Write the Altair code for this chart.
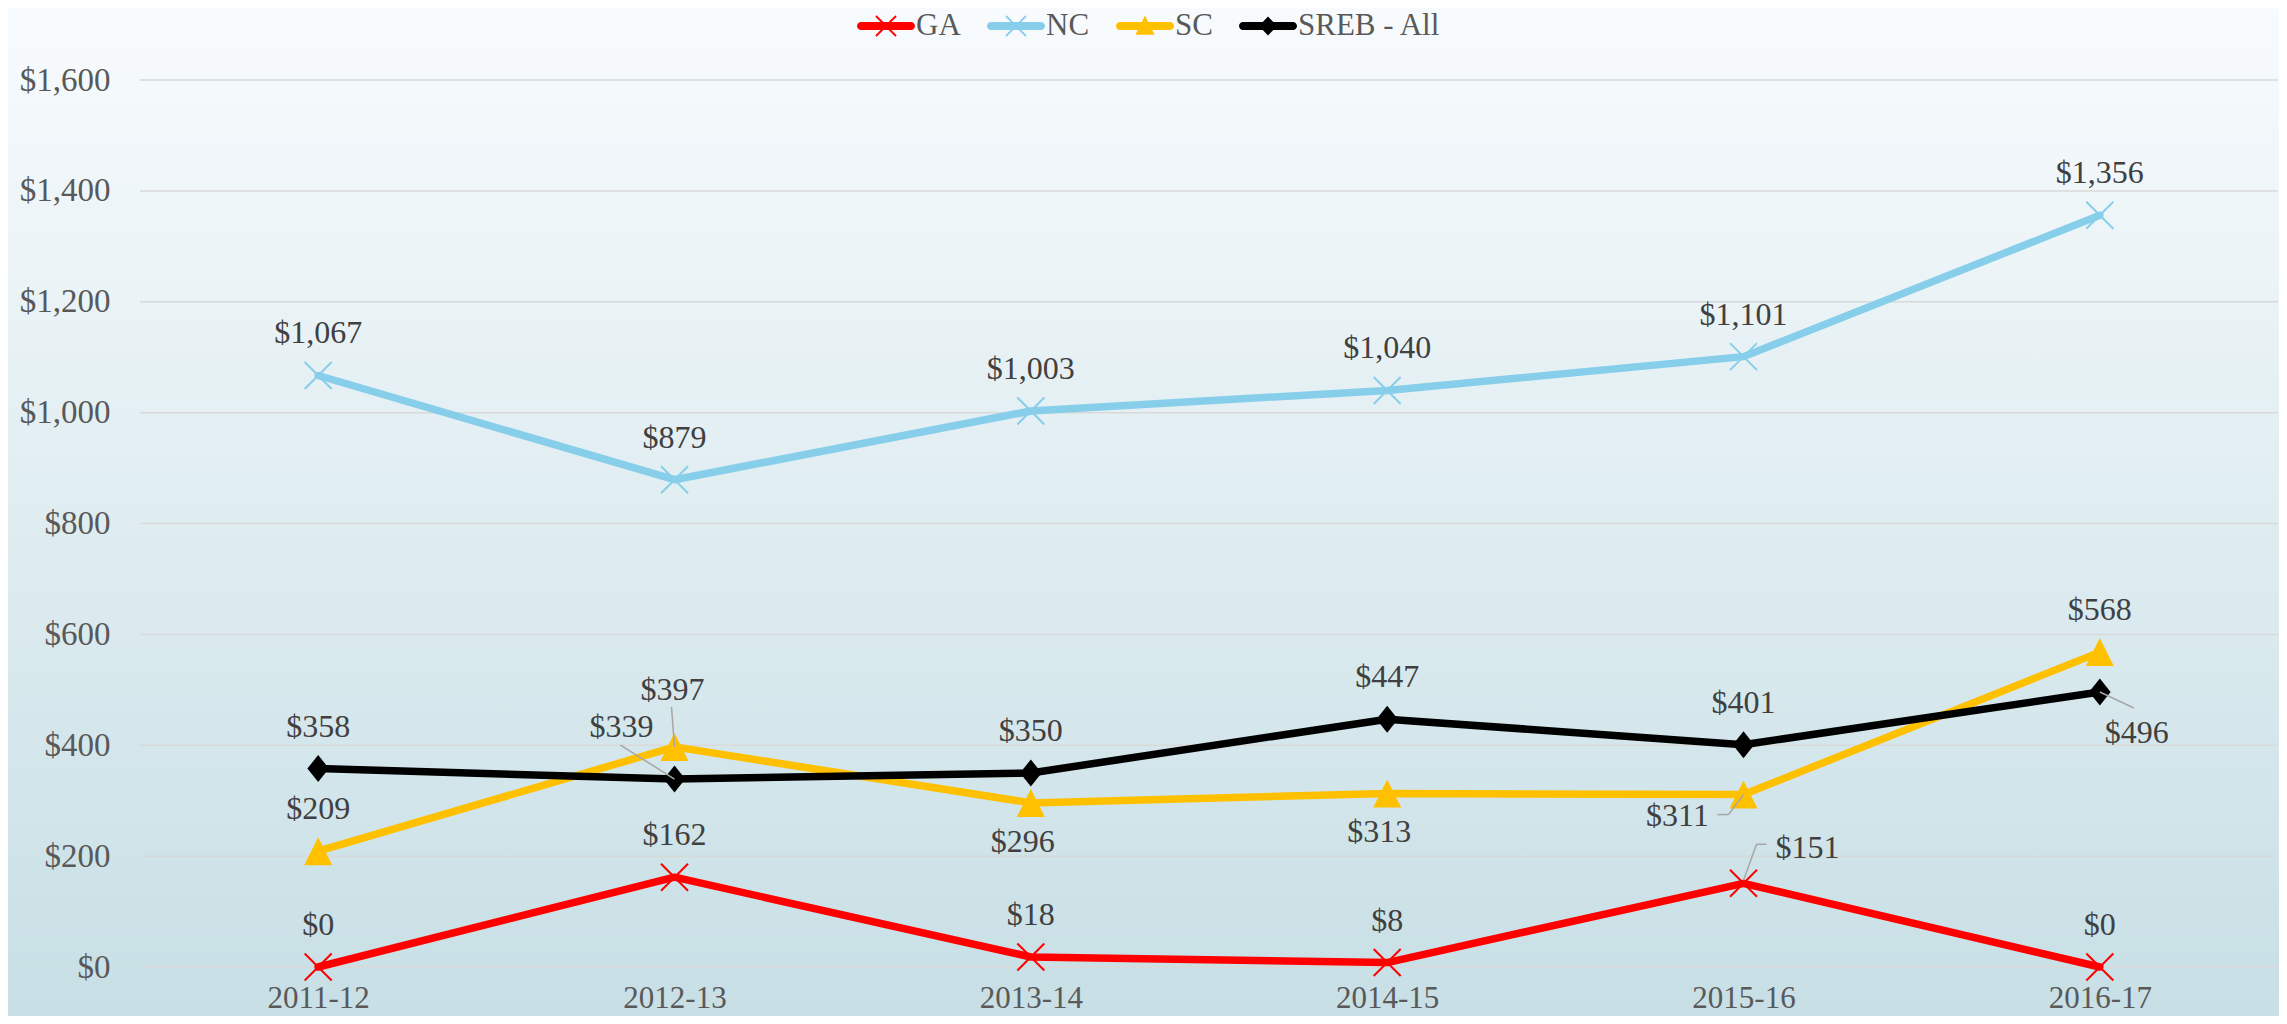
import altair as alt
import pandas as pd

# ---------------- data ----------------
years = ["2011-12", "2012-13", "2013-14", "2014-15", "2015-16", "2016-17"]
series = ["GA", "NC", "SC", "SREB - All"]
ga = [0, 162, 18, 8, 151, 0]
nc = [1067, 879, 1003, 1040, 1101, 1356]
sc = [209, 397, 296, 313, 311, 568]
sreb = [358, 339, 350, 447, 401, 496]
y_ticks = [0, 200, 400, 600, 800, 1000, 1200, 1400, 1600]

values = {"GA": ga, "NC": nc, "SC": sc, "SREB - All": sreb}
rows = [{"Series": s, "Year": yr, "Value": v}
        for s in series for yr, v in zip(years, values[s])]
df = pd.DataFrame(rows)
grid_df = pd.DataFrame({"Value": y_ticks})

# ---------------- styles ----------------
FONT = "Liberation Serif"
colors = {"GA": "#ff0000", "NC": "#87ceeb", "SC": "#ffc000", "SREB - All": "#000000"}
W, H = 2138, 887
PL, PT, PR, PB = 132, 72, 1, 49

# marker paths (plot)
X_PATH = "M-1,-1L1,1M-1,1L1,-1"
TRI_PATH = "M0,-1L1,1L-1,1Z"
DIA_PATH = "M0,-1L0.8,0L0,1L-0.8,0Z"
markers = {
    "GA": dict(shape=X_PATH, size=729, filled=False, strokeWidth=2),
    "NC": dict(shape=X_PATH, size=729, filled=False, strokeWidth=2),
    "SC": dict(shape=TRI_PATH, size=784, filled=True, strokeWidth=0),
    "SREB - All": dict(shape=DIA_PATH, size=729, filled=True, strokeWidth=0),
}

# legend symbol paths: rounded bar + marker
h = 0.138
BAR = (f"M{-1+h},{-h}H{1-h}A{h},{h} 0 0 1 {1-h},{h}"
       f"H{-1+h}A{h},{h} 0 0 1 {-1+h},{-h}Z")
a, w = 0.345, 0.022
XL = (f"M{-a+w},{-a-w}L{a+w},{a-w}L{a-w},{a+w}L{-a-w},{-a+w}Z"
      f"M{-a-w},{a-w}L{a-w},{-a-w}L{a+w},{-a+w}L{-a+w},{a+w}Z")
TRIL = "M0,-0.36L0.33,0.3L-0.33,0.3Z"
DIAL = "M0,-0.33L0.31,0L0,0.33L-0.31,0Z"
legend_paths = [BAR + XL, BAR + XL, BAR + TRIL, BAR + DIAL]

# label placement
label_offsets = {"above": (0, -42), "below": (-8, 39)}
below = [("SC", "2013-14"), ("SC", "2014-15")]
special = {
    ("SC", "2012-13"): (-2, -57),
    ("SREB - All", "2012-13"): (-53, -52),
    ("SC", "2015-16"): (-66, 21),
    ("GA", "2015-16"): (64, -35),
    ("SREB - All", "2016-17"): (37, 41),
}
leaders = {
    ("SC", "2012-13"): [(-3, -40, 0, 0)],
    ("SREB - All", "2012-13"): [(-54, -34, 0, 0)],
    ("SC", "2015-16"): [(0, 0, -15, 20), (-15, 20, -26, 20)],
    ("GA", "2015-16"): [(0, -3, 13, -39), (13, -39, 23, -39)],
    ("SREB - All", "2016-17"): [(0, 0, 34, 16)],
}


def place(r):
    k = (r["Series"], r["Year"])
    if k in special:
        return "special"
    if k in below:
        return "below"
    return "above"


df["Place"] = df.apply(place, axis=1)

# ---------------- encodings ----------------
x_enc = alt.X("Year:N", sort=years,
              scale=alt.Scale(type="point", padding=0.5, domain=years),
              axis=alt.Axis(title=None, labelAngle=0, ticks=False, domain=False,
                            grid=False, labelPadding=31, labelBaseline="middle",
                            labelFont=FONT, labelFontSize=31, labelColor="#595959",
                            zindex=1))
y_enc = alt.Y("Value:Q", scale=alt.Scale(domain=[0, 1600], nice=False),
              axis=alt.Axis(title=None, values=y_ticks, format="$,.0f", ticks=False,
                            domain=False, grid=False,
                            labelPadding=30, labelFont=FONT, labelFontSize=33,
                            labelColor="#595959", labelAlign="right",
                            labelBaseline="middle", zindex=1))

base = alt.Chart(df)
layers = []

gradient = {"gradient": "linear", "x1": 0, "y1": 0, "x2": 0, "y2": 1,
            "stops": [{"offset": 0, "color": "#f8fbfd"},
                      {"offset": 1, "color": "#c7dfe5"}]}
bg = alt.Chart(alt.Data(values=[{"k": 1}])).mark_rect(fill=gradient).encode(
    x=alt.value(-PL), x2=alt.value(W + PR), y=alt.value(-PT), y2=alt.value(H + PB))
layers.append(bg)

# gridlines
layers.append(alt.Chart(grid_df).mark_rule(color="#d9d9d9", strokeWidth=1.5).encode(
    y=y_enc, x=alt.value(0), x2=alt.value(W)))

for s in series:
    sub = base.transform_filter(alt.datum.Series == s)
    layers.append(sub.mark_line(color=colors[s], strokeWidth=7.5, strokeCap="round",
                                strokeJoin="round").encode(x=x_enc, y=y_enc))
    m = markers[s]
    layers.append(sub.mark_point(shape=m["shape"], size=m["size"], filled=m["filled"],
                                 fill=colors[s], stroke=colors[s],
                                 strokeWidth=m["strokeWidth"],
                                 opacity=1).encode(x=x_enc, y=y_enc))

# leader lines
for (s, yr), segs in leaders.items():
    sub = base.transform_filter((alt.datum.Series == s) & (alt.datum.Year == yr))
    for (x0, y0, x1, y1) in segs:
        layers.append(sub.mark_rule(color="#a6a6a6", strokeWidth=1.5,
                                    xOffset=x0, yOffset=y0, x2Offset=x1, y2Offset=y1)
                      .encode(x=x_enc, x2="Year:N", y=y_enc, y2="Value:Q"))

text_kw = dict(font=FONT, fontSize=32, color="#404040", align="center", baseline="middle")
txt = alt.Text("Value:Q", format="$,.0f")
for name, (dx, dy) in label_offsets.items():
    layers.append(base.transform_filter(alt.datum.Place == name)
                  .mark_text(dx=dx, dy=dy, **text_kw).encode(x=x_enc, y=y_enc, text=txt))
for (s, yr), (dx, dy) in special.items():
    layers.append(base.transform_filter((alt.datum.Series == s) & (alt.datum.Year == yr))
                  .mark_text(dx=dx, dy=dy, **text_kw).encode(x=x_enc, y=y_enc, text=txt))

# legend layer (no marks drawn, only the legend)
leg = alt.Legend(title=None, orient="none", legendX=717, legendY=-83,
                 direction="horizontal", symbolSize=3364, symbolStrokeWidth=0,
                 labelFont=FONT, labelFontSize=31, labelColor="#595959",
                 labelOffset=1, columnPadding=25, padding=0, labelLimit=400,
                 symbolOpacity=1)
legend_layer = base.transform_filter(alt.datum.Value < 0).mark_point(
    filled=True, opacity=1, strokeWidth=0).encode(
    x=x_enc, y=y_enc,
    color=alt.Color("Series:N", scale=alt.Scale(domain=series,
                                                range=[colors[s] for s in series]),
                    legend=leg),
    shape=alt.Shape("Series:N", scale=alt.Scale(domain=series, range=legend_paths),
                    legend=leg))
layers.append(legend_layer)

chart = alt.layer(*layers).properties(
    width=W, height=H,
    padding={"left": PL, "top": PT, "right": PR, "bottom": PB},
    autosize=alt.AutoSizeParams(type="none"),
    background="#ffffff",
).configure_view(stroke=None)

chart.save("out.html", embed_options={"renderer": "svg", "actions": False})
